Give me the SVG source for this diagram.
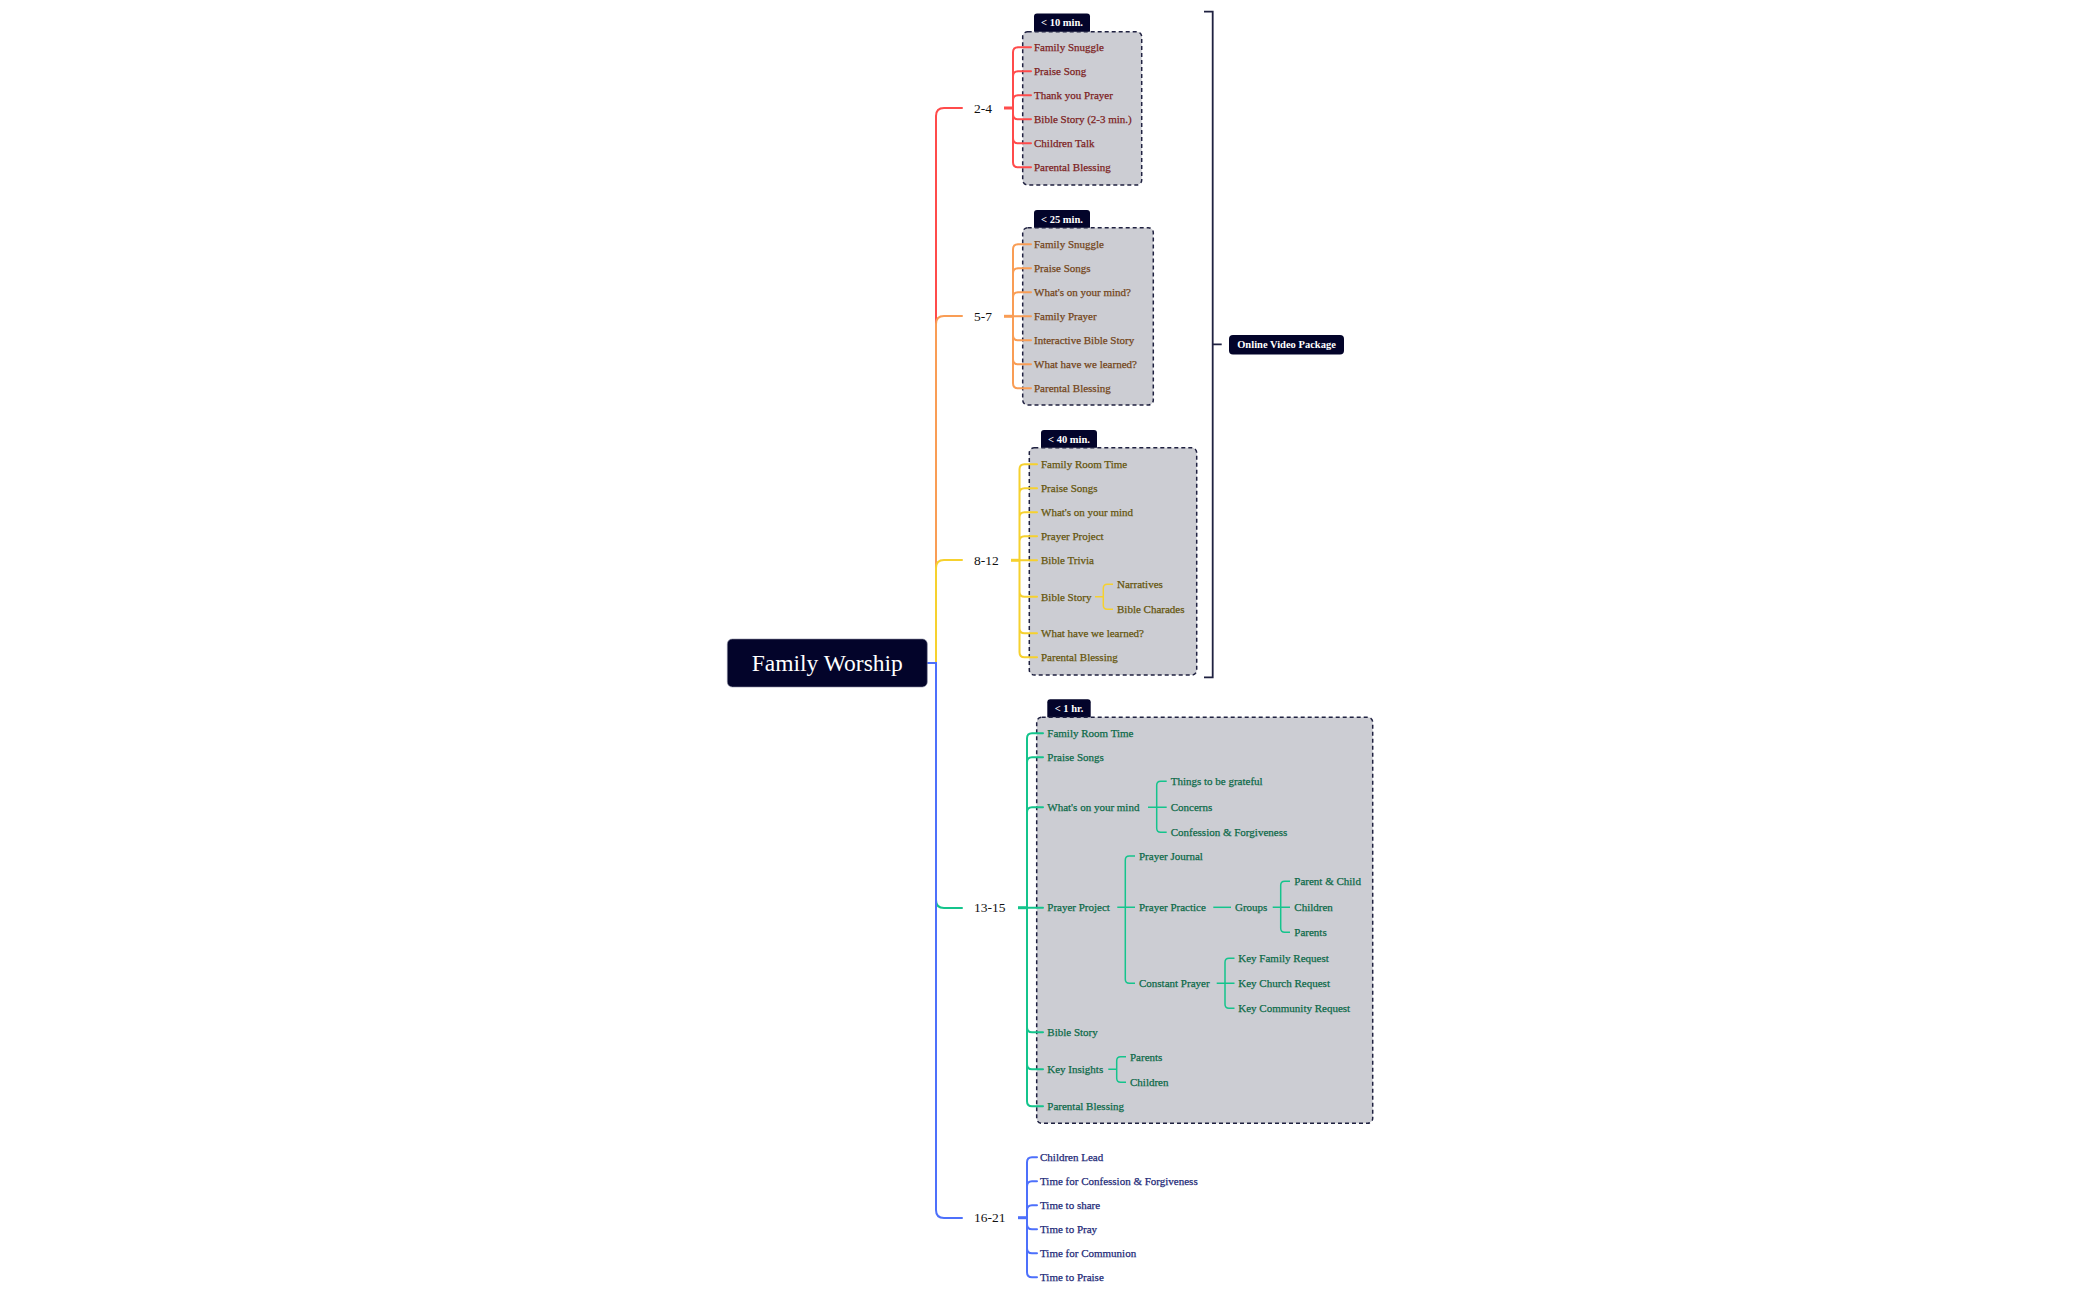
<svg xmlns="http://www.w3.org/2000/svg" width="2100" height="1299" viewBox="0 0 2100 1299">
<style>
text{font-family:"Liberation Serif","Times New Roman",serif;dominant-baseline:central}
.it{font-size:11px;stroke-width:0.25}
.lb{font-size:13.5px;fill:#111}
.tag{fill:#03042a}
.tagt{font-size:10.5px;font-weight:bold;fill:#fff;text-anchor:middle}
.box{fill:#cccdd3;stroke:#1f2140;stroke-width:1.5;stroke-dasharray:4 3}
.ln{fill:none;stroke-width:2;stroke-linecap:round}
.sb{fill:none;stroke-width:1.5}
.r{stroke:#ff4b4b}.rt{fill:#7d1f1f;stroke:#7d1f1f}
.o{stroke:#f99d55}.ot{fill:#74461a;stroke:#74461a}
.y{stroke:#f6d12e}.yt{fill:#66560e;stroke:#66560e}
.g{stroke:#14c48c}.gt{fill:#0d6a49;stroke:#0d6a49}
.b{stroke:#4d70fb}.bt{fill:#1e2a78;stroke:#1e2a78}
</style>
<rect width="2100" height="1299" fill="#fff"/>

<g id="boxes">
<rect class="tag" x="1034" y="13.5" width="56" height="20" rx="3"/>
<rect class="box" x="1022.7" y="31.7" width="119" height="153.3" rx="5"/>
<text class="tagt" x="1062" y="22.6">&lt; 10 min.</text>
<rect class="tag" x="1034" y="210" width="56" height="20" rx="3"/>
<rect class="box" x="1022.7" y="227.7" width="130.6" height="177.3" rx="5"/>
<text class="tagt" x="1062" y="219">&lt; 25 min.</text>
<rect class="tag" x="1041" y="430" width="56" height="20" rx="3"/>
<rect class="box" x="1029.3" y="447.7" width="167.4" height="227.3" rx="5"/>
<text class="tagt" x="1069" y="439">&lt; 40 min.</text>
<rect class="tag" x="1047.3" y="699.3" width="43.4" height="20" rx="3"/>
<rect class="box" x="1036.7" y="717.3" width="336" height="406" rx="5"/>
<text class="tagt" x="1069" y="708.3">&lt; 1 hr.</text>
</g>

<g id="connectors">
<path class="ln r" d="M936 663V116Q936 108 944 108H962"/>
<path class="ln o" d="M936 663V324Q936 316 944 316H962"/>
<path class="ln y" d="M936 663V568Q936 560 944 560H962"/>
<path class="ln g" d="M936 663V900Q936 908 944 908H962"/>
<path class="ln b" d="M927 663H936V1210Q936 1218 944 1218H962"/>

<path class="r" stroke-width="3" d="M1004 108H1013"/>
<path class="ln r" d="M1013 108V52.3Q1013 47.3 1018 47.3H1031M1013 108V76.3Q1013 71.3 1018 71.3H1031M1013 108V100.3Q1013 95.3 1018 95.3H1031M1013 108V114.3Q1013 119.3 1018 119.3H1031M1013 108V138.3Q1013 143.3 1018 143.3H1031M1013 108V162.3Q1013 167.3 1018 167.3H1031"/>

<path class="o" stroke-width="3" d="M1004 316.3H1013"/>
<path class="ln o" d="M1013 316.3V249.3Q1013 244.3 1018 244.3H1031M1013 316.3V273.3Q1013 268.3 1018 268.3H1031M1013 316.3V297.3Q1013 292.3 1018 292.3H1031M1013 316.3H1031M1013 316.3V335.3Q1013 340.3 1018 340.3H1031M1013 316.3V359.3Q1013 364.3 1018 364.3H1031M1013 316.3V383.3Q1013 388.3 1018 388.3H1031"/>

<path class="y" stroke-width="3" d="M1011 560.3H1019.5"/>
<path class="ln y" d="M1019.5 560.3V469.3Q1019.5 464.3 1024.5 464.3H1037M1019.5 560.3V493.3Q1019.5 488.3 1024.5 488.3H1037M1019.5 560.3V517.3Q1019.5 512.3 1024.5 512.3H1037M1019.5 560.3V541.3Q1019.5 536.3 1024.5 536.3H1037M1019.5 560.3H1037M1019.5 560.3V591.7Q1019.5 596.7 1024.5 596.7H1037M1019.5 560.3V628.3Q1019.5 633.3 1024.5 633.3H1037M1019.5 560.3V652.3Q1019.5 657.3 1024.5 657.3H1037"/>
<path class="sb y" d="M1095 596.7H1103.3M1103.3 596.7V588.3Q1103.3 584.3 1107.3 584.3H1113M1103.3 596.7V605.3Q1103.3 609.3 1107.3 609.3H1113"/>

<path class="g" stroke-width="3" d="M1018 907.7H1027"/>
<path class="ln g" d="M1027 907.7V738.3Q1027 733.3 1032 733.3H1043M1027 907.7V762.3Q1027 757.3 1032 757.3H1043M1027 907.7V812.3Q1027 807.3 1032 807.3H1043M1027 907.7H1043M1027 907.7V1027.3Q1027 1032.3 1032 1032.3H1043M1027 907.7V1064.3Q1027 1069.3 1032 1069.3H1043M1027 907.7V1101.3Q1027 1106.3 1032 1106.3H1043"/>
<path class="sb g" d="M1148 807.3H1166.7M1156.7 807.3V785.3Q1156.7 781.3 1160.7 781.3H1166.7M1156.7 807.3V828.3Q1156.7 832.3 1160.7 832.3H1166.7"/>
<path class="sb g" d="M1117.3 907.3H1135M1125.3 907.3V860Q1125.3 856 1129.3 856H1135M1125.3 907.3V979.3Q1125.3 983.3 1129.3 983.3H1135"/>
<path class="sb g" d="M1213.3 907.3H1231"/>
<path class="sb g" d="M1272.7 907.3H1290M1280.7 907.3V885.3Q1280.7 881.3 1284.7 881.3H1290M1280.7 907.3V928.3Q1280.7 932.3 1284.7 932.3H1290"/>
<path class="sb g" d="M1216.7 983.3H1234.5M1225 983.3V962.3Q1225 958.3 1229 958.3H1234.5M1225 983.3V1004.3Q1225 1008.3 1229 1008.3H1234.5"/>
<path class="sb g" d="M1108.3 1069.3H1116.7M1116.7 1069.3V1060.7Q1116.7 1056.7 1120.7 1056.7H1126M1116.7 1069.3V1078.3Q1116.7 1082.3 1120.7 1082.3H1126"/>

<path class="b" stroke-width="3" d="M1018 1217.7H1027"/>
<path class="ln b" d="M1027 1217.7V1162.3Q1027 1157.3 1032 1157.3H1037M1027 1217.7V1186.3Q1027 1181.3 1032 1181.3H1037M1027 1217.7V1210.3Q1027 1205.3 1032 1205.3H1037M1027 1217.7V1224.3Q1027 1229.3 1032 1229.3H1037M1027 1217.7V1248.3Q1027 1253.3 1032 1253.3H1037M1027 1217.7V1272.3Q1027 1277.3 1032 1277.3H1037"/>

<path fill="none" stroke="#1f2140" stroke-width="1.8" d="M1204 11.7H1212.7V677.3H1204M1212.7 344.3H1221.7"/>
</g>

<g id="root">
<rect x="727.3" y="639" width="200" height="48" rx="5" fill="#03042a" stroke="#8a8ca0" stroke-width="0.6"/>
<text x="827.3" y="663" font-size="23.5" fill="#fff" text-anchor="middle">Family Worship</text>
</g>

<g id="online-video-package">
<rect x="1229" y="335" width="115" height="19.5" rx="4" fill="#03042a"/>
<text class="tagt" x="1286.5" y="344.8">Online Video Package</text>
</g>

<g id="age-2-4">
<text class="lb" x="974" y="108">2-4</text>
<g class="it rt">
<text x="1034" y="47.3">Family Snuggle</text>
<text x="1034" y="71.3">Praise Song</text>
<text x="1034" y="95.3">Thank you Prayer</text>
<text x="1034" y="119.3">Bible Story (2-3 min.)</text>
<text x="1034" y="143.3">Children Talk</text>
<text x="1034" y="167.3">Parental Blessing</text>
</g>
</g>

<g id="age-5-7">
<text class="lb" x="974" y="316.3">5-7</text>
<g class="it ot">
<text x="1034" y="244.3">Family Snuggle</text>
<text x="1034" y="268.3">Praise Songs</text>
<text x="1034" y="292.3">What's on your mind?</text>
<text x="1034" y="316.3">Family Prayer</text>
<text x="1034" y="340.3">Interactive Bible Story</text>
<text x="1034" y="364.3">What have we learned?</text>
<text x="1034" y="388.3">Parental Blessing</text>
</g>
</g>

<g id="age-8-12">
<text class="lb" x="974" y="560.3">8-12</text>
<g class="it yt">
<text x="1041" y="464.3">Family Room Time</text>
<text x="1041" y="488.3">Praise Songs</text>
<text x="1041" y="512.3">What's on your mind</text>
<text x="1041" y="536.3">Prayer Project</text>
<text x="1041" y="560.3">Bible Trivia</text>
<text x="1041" y="596.7">Bible Story</text>
<text x="1117" y="584.3">Narratives</text>
<text x="1117" y="609.3">Bible Charades</text>
<text x="1041" y="633.3">What have we learned?</text>
<text x="1041" y="657.3">Parental Blessing</text>
</g>
</g>

<g id="age-13-15">
<text class="lb" x="974" y="907.7">13-15</text>
<g class="it gt">
<text x="1047.3" y="733.3">Family Room Time</text>
<text x="1047.3" y="757.3">Praise Songs</text>
<text x="1047.3" y="807.3">What's on your mind</text>
<text x="1170.7" y="781.3">Things to be grateful</text>
<text x="1170.7" y="807.3">Concerns</text>
<text x="1170.7" y="832.3">Confession &amp; Forgiveness</text>
<text x="1047.3" y="907.3">Prayer Project</text>
<text x="1139" y="856">Prayer Journal</text>
<text x="1139" y="907.3">Prayer Practice</text>
<text x="1235" y="907.3">Groups</text>
<text x="1294.3" y="881.3">Parent &amp; Child</text>
<text x="1294.3" y="907.3">Children</text>
<text x="1294.3" y="932.3">Parents</text>
<text x="1139" y="983.3">Constant Prayer</text>
<text x="1238.3" y="958.3">Key Family Request</text>
<text x="1238.3" y="983.3">Key Church Request</text>
<text x="1238.3" y="1008.3">Key Community Request</text>
<text x="1047.3" y="1032.3">Bible Story</text>
<text x="1047.3" y="1069.3">Key Insights</text>
<text x="1130" y="1056.7">Parents</text>
<text x="1130" y="1082.3">Children</text>
<text x="1047.3" y="1106.3">Parental Blessing</text>
</g>
</g>

<g id="age-16-21">
<text class="lb" x="974" y="1217.7">16-21</text>
<g class="it bt">
<text x="1040" y="1157.3">Children Lead</text>
<text x="1040" y="1181.3">Time for Confession &amp; Forgiveness</text>
<text x="1040" y="1205.3">Time to share</text>
<text x="1040" y="1229.3">Time to Pray</text>
<text x="1040" y="1253.3">Time for Communion</text>
<text x="1040" y="1277.3">Time to Praise</text>
</g>
</g>
</svg>
